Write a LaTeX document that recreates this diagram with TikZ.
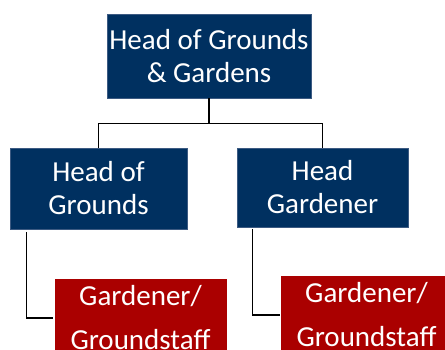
\documentclass[tikz,border=0pt]{standalone}
\usepackage{fontspec}
\setmainfont{Carlito}
\usetikzlibrary{positioning, calc}
\definecolor{navy}{RGB}{0,48,96}
\definecolor{navyedge}{RGB}{60,90,130}
\definecolor{crimson}{RGB}{170,0,0}
\tikzset{
    headbox/.style={fill=navy, draw=navyedge, line width=0.6pt, text=white, align=center, inner sep=0pt,
        font=\fontsize{29}{33}\selectfont},
    staffbox/.style={fill=crimson, draw=crimson, text=white, align=center, inner sep=0pt,
        font=\fontsize{29}{33}\selectfont},
    line/.style={line width=1.3pt, black}
}

\begin{document}
\begin{tikzpicture}[x=1pt, y=-1pt]
    \useasboundingbox (0,0) rectangle (445,349);
    \clip (0,0) rectangle (445,349);

    % --- Boxes ---
    \node (top) [headbox, minimum width=204pt, minimum height=84pt] at (209,56) {Head of Grounds\\\& Gardens};
    \node (grounds) [headbox, minimum width=177pt, minimum height=81pt] at (98.5,188.5) {Head of\\Grounds};
    \node (gardener) [headbox, minimum width=171pt, minimum height=79pt] at (322.5,187.5) {Head\\Gardener};
    \node (staffA) [staffbox, minimum width=171pt, minimum height=78pt] at (140.5,318) {Gardener/\\[11pt]Groundstaff};
    \node (staffB) [staffbox, minimum width=171pt, minimum height=78pt] at (366.5,315) {Gardener/\\[11pt]Groundstaff};

    % --- Connections ---
    \draw[line] (top.south) -- ++(0,25) -| (grounds.north);
    \draw[line] (top.south) -- ++(0,25) -| (gardener.north);
    \draw[line, shorten <=3pt, shorten >=2pt] ($(grounds.south west)+(17,0)$) |- (staffA.west);
    \draw[line, shorten <=2pt, shorten >=1pt] ($(gardener.south west)+(16,0)$) |- (staffB.west);
\end{tikzpicture}
\end{document}
